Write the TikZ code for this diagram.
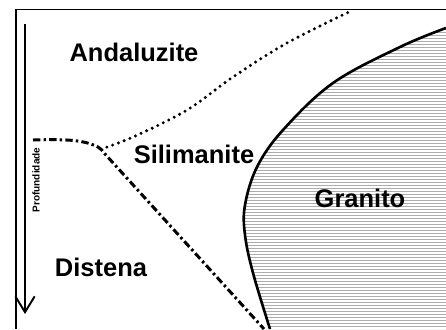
\documentclass[tikz,border=0pt]{standalone}
\usepackage{fontspec}
\setmainfont{Liberation Sans}
\usepackage{tikz}
\usetikzlibrary{arrows.meta}

\begin{document}
\begin{tikzpicture}[x=0.02cm, y=-0.02cm,
  rotulo/.style={font=\fontsize{14.5}{17}\selectfont\bfseries, inner sep=0pt},
  limite/.style={line width=1.5pt, line cap=butt},
  hachura/.style={gray!65, line width=0.55pt}]
\useasboundingbox (0,0) rectangle (446,329);
\fill[white] (0,0) rectangle (446,329);
% granito com hachura horizontal
\begin{scope}
\clip plot[smooth, tension=0.6] coordinates {(446,28) (400,47) (333,83) (283,130) (257,167) (245,205) (245,235) (253,273) (270,329)} -- (446,329) -- cycle;
\foreach \yy in {29,32,...,329}
  \draw[hachura] (230,\yy) -- (446,\yy);
\end{scope}
\draw[limite, line join=round] plot[smooth, tension=0.6] coordinates {(446,28) (400,47) (333,83) (283,130) (257,167) (245,205) (245,235) (253,273) (270,329)};
% moldura
\draw[line width=0.85pt] (446,9.5) -- (16,9.5) -- (16,329);
% linhas de transicao
\draw[limite, line width=1.7pt, dash pattern=on 4.2pt off 1.8pt on 1.4pt off 1.8pt]
  (33,140) .. controls (68,139) and (84,140) .. (98,147) .. controls (101,149) and (103,151) .. (105,154) -- (264,329);
\draw[line width=1.9pt, line cap=round, dash pattern=on 0pt off 3.5pt]
  plot[smooth, tension=0.6] coordinates {(101,149) (133,137) (187,110) (233,77) (287,43) (353,10)};
% profundidade
\coordinate (topo) at (25,24);
\coordinate (fundo) at (25,314);
\draw[line width=1.1pt, -{Straight Barb[length=9pt, width=11pt, line width=1.1pt]}] (topo) -- (fundo);
\node[font=\fontsize{5.7}{6}\selectfont\bfseries, rotate=90, inner sep=0pt] (prof) at (36,180) {Profundidade};
% fases
\node[rotulo] (andaluzite) at (134,52) {Andaluzite};
\node[rotulo] (silimanite) at (194,154) {Silimanite};
\node[rotulo] (granito) at (360,198) {Granito};
\node[rotulo] (distena) at (101,267) {Distena};
\end{tikzpicture}
\end{document}
